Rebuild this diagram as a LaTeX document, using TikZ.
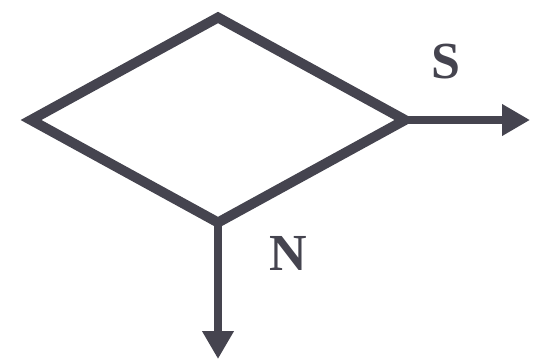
\documentclass[tikz,border=0pt]{standalone}
\usepackage{fontspec}
\setmainfont{Liberation Serif}
\usetikzlibrary{shapes.geometric,arrows.meta}
\definecolor{ink}{HTML}{45444F}
\tikzset{
  decision/.style={draw=ink, line width=10pt, diamond, minimum width=374pt, minimum height=205pt, inner sep=0pt, outer sep=0pt},
  flow/.style={draw=ink, line width=8pt, -{Triangle[width=30pt,length=28pt]}},
  lbl/.style={text=ink, font=\fontsize{52}{58}\selectfont\bfseries, inner sep=0pt}
}
\begin{document}
\begin{tikzpicture}[x=1pt,y=1pt]
\useasboundingbox (0,0) rectangle (534,360);
\node[decision] (d) at (218,240) {};
\coordinate (s) at (530,240);
\coordinate (n) at (218,1);
\draw[flow] (d.east) -- (s);
\draw[flow] (d.south) -- (n);
\node[lbl] (ls) at (446,298) {S};
\node[lbl] (ln) at (288,107) {N};
\end{tikzpicture}
\end{document}
